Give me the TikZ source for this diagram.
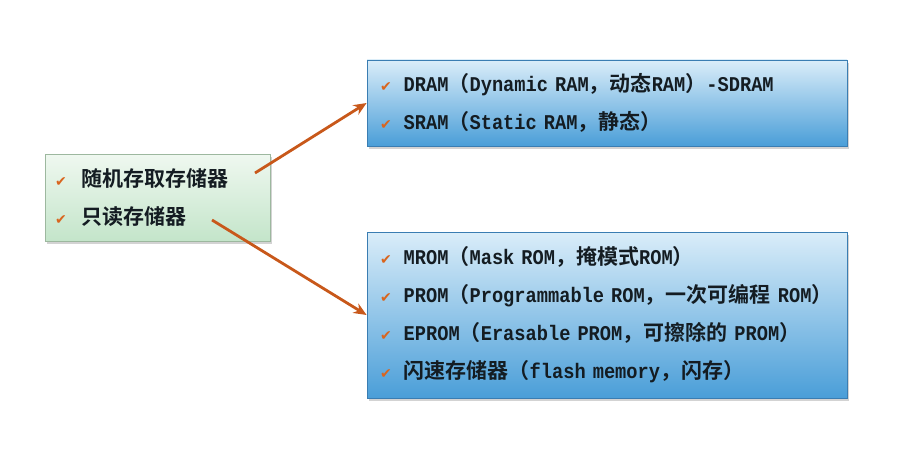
\documentclass[tikz,border=0pt]{standalone}
\usepackage{fontspec}
\setmainfont{Liberation Mono}[FakeStretch=0.89]
\newfontfamily\zhfont{Noto Sans CJK SC}[BoldFont={Noto Sans CJK SC Bold}]
\newfontfamily\symfont{DejaVu Sans}
\usetikzlibrary{arrows.meta,positioning,shadows}

\definecolor{chkO}{HTML}{D9651E}
\definecolor{arrO}{HTML}{C8581A}
\definecolor{grnTop}{HTML}{EFF8F0}
\definecolor{grnBot}{HTML}{C4E5CA}
\definecolor{grnLine}{HTML}{9DB89F}
\definecolor{bluTop}{HTML}{DAEDF9}
\definecolor{bluBot}{HTML}{4A9ED8}
\definecolor{bluLine}{HTML}{3A7DB2}
\definecolor{txtD}{HTML}{141C22}

\newcommand{\zh}[1]{{\zhfont #1}}
\newcommand{\chk}[1][12pt]{{\symfont\fontsize{14}{14}\selectfont\color{chkO}✔}\hspace{#1}}
\newcommand{\boxfont}{\bfseries\fontsize{21}{38}\selectfont\spaceskip 11.2pt\relax}

\tikzstyle{recNode} = [rectangle, align=left, inner ysep=0pt, draw, line width=0.8pt, text=txtD, font=\boxfont, drop shadow={opacity=0.35, shadow xshift=2pt, shadow yshift=-3pt}]
\tikzstyle{recNodeG} = [recNode, draw=grnLine, top color=grnTop, bottom color=grnBot]
\tikzstyle{recNodeB} = [recNode, draw=bluLine, top color=bluTop, bottom color=bluBot]
\tikzstyle{arrowO} = [line width=2.8pt, -{Stealth[length=13pt,width=11pt]}, draw=arrO]

\begin{document}
\begin{tikzpicture}[x=1pt, y=1pt]
        \useasboundingbox (0,0) rectangle (908,459);

        \node (mem) [recNodeG, inner xsep=10pt, text width=205pt, minimum height=87pt] at (157.5,261.5)
            {\chk[15pt]\zh{随机存取存储器}\\ \chk[15pt]\zh{只读存储器}};
        \node (ram) [recNodeB, inner xsep=13pt, text width=454pt, minimum height=86pt] at (607,356)
            {\chk DRAM\zh{（}Dynamic RAM\zh{，动态}RAM\zh{）}-SDRAM\\
             \chk SRAM\zh{（}Static RAM\zh{，静态）}};
        \node (rom) [recNodeB, inner xsep=13pt, text width=454pt, minimum height=166pt] at (607,144)
            {\chk MROM\zh{（}Mask ROM\zh{，掩模式}ROM\zh{）}\\
             \chk PROM\zh{（}Programmable ROM\zh{，一次可编程} ROM\zh{）}\\
             \chk EPROM\zh{（}Erasable PROM\zh{，可擦除的} PROM\zh{）}\\
             \chk \zh{闪速存储器（}flash memory\zh{，闪存）}};

        \coordinate (s1) at (255,286);
        \coordinate (s2) at (212,239);

        \draw [arrowO] (s1) -- (ram.west);
        \draw [arrowO] (s2) -- (rom.west);
    \end{tikzpicture}
\end{document}
